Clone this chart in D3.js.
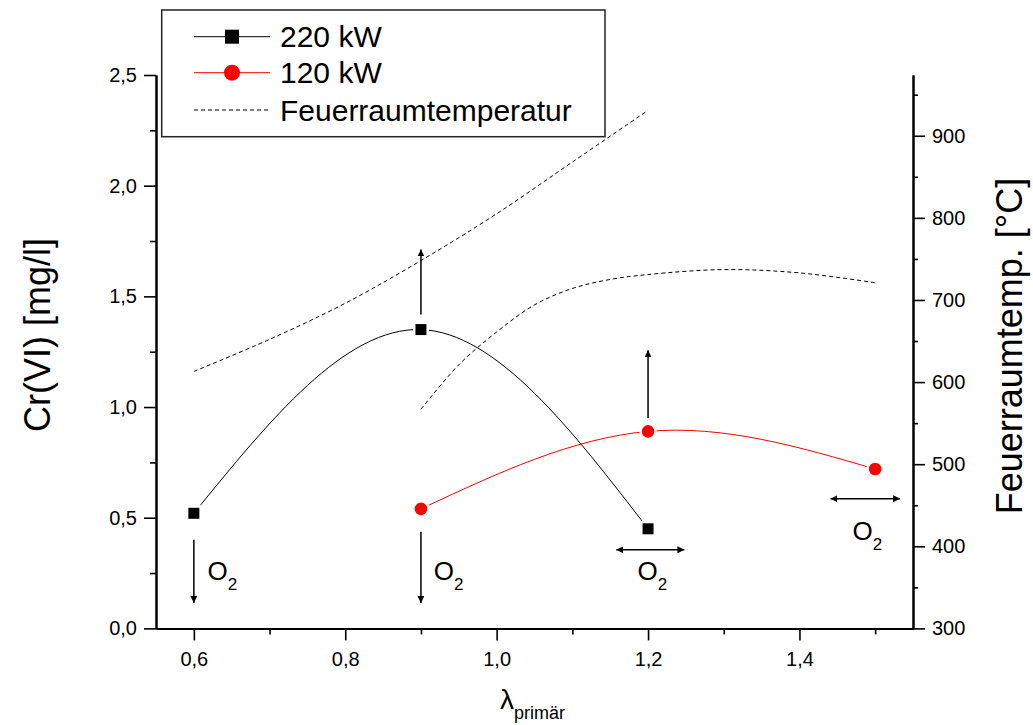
<!DOCTYPE html>
<html>
<head>
<meta charset="utf-8">
<script src="https://cdn.jsdelivr.net/npm/d3@7"></script>
<style>
  body { margin: 0; background: #fff; }
  svg { display: block; font-family: "Liberation Sans", Arial, sans-serif; }
</style>
</head>
<body>
<div id="chart"></div>
<script>
// Cr(VI) series, left axis
const lam220 = [0.6, 0.9, 1.2];
const cr220 = [0.52, 1.35, 0.45];
const lam120 = [0.9, 1.2, 1.5];
const cr120 = [0.54, 0.89, 0.72];

// furnace temperature, right axis
const lamTempA = [0.6, 0.7, 0.8, 0.9, 1.0, 1.1, 1.2];
const tempA = [613, 652, 696, 748, 805, 868, 931];
const lamTempB = [0.9, 0.95, 1.0, 1.05, 1.1, 1.15, 1.2, 1.3, 1.4, 1.5];
const tempB = [567, 621, 661, 694, 714, 725, 731, 737, 733, 721];

const xTicks = [0.6, 0.8, 1.0, 1.2, 1.4];
const xMinor = [0.7, 0.9, 1.1, 1.3, 1.5];
const yTicks = [0, 0.5, 1.0, 1.5, 2.0, 2.5];
const yMinor = [0.25, 0.75, 1.25, 1.75, 2.25];
const tTicks = [300, 400, 500, 600, 700, 800, 900];
const tMinor = [350, 450, 550, 650, 750, 850, 950];

const legendLabels = ["220 kW", "120 kW", "Feuerraumtemperatur"];

// O2 arrows (lambda, Cr value) and labels
const arrows = [
  {l1: 0.6, v1: 0.40, l2: 0.6, v2: 0.115, both: false},
  {l1: 0.9, v1: 0.437, l2: 0.9, v2: 0.115, both: false},
  {l1: 0.9, v1: 1.418, l2: 0.9, v2: 1.712, both: false},
  {l1: 1.2, v1: 0.951, l2: 1.2, v2: 1.257, both: false},
  {l1: 1.158, v1: 0.355, l2: 1.248, v2: 0.355, both: true},
  {l1: 1.441, v1: 0.586, l2: 1.533, v2: 0.586, both: true}
];
const o2Labels = [
  {l: 0.618, v: 0.219},
  {l: 0.917, v: 0.219},
  {l: 1.186, v: 0.219},
  {l: 1.470, v: 0.399}
];

const W = 1033, H = 725;
const svg = d3.select("#chart").append("svg")
  .attr("width", W).attr("height", H);

svg.append("rect").attr("width", W).attr("height", H).attr("fill", "#fff");

const x = d3.scaleLinear().domain([0.55, 1.55]).range([156, 913]);
const y = d3.scaleLinear().domain([0, 2.5]).range([628.4, 75]);
const yT = d3.scaleLinear().domain([300, 974]).range([628.4, 75]);

const defs = svg.append("defs");
defs.append("marker")
  .attr("id", "head")
  .attr("viewBox", "0 0 10 10")
  .attr("refX", 10).attr("refY", 5)
  .attr("markerWidth", 7).attr("markerHeight", 7)
  .attr("markerUnits", "userSpaceOnUse")
  .attr("orient", "auto-start-reverse")
  .append("path").attr("d", "M0,0 L10,5 L0,10 z").attr("fill", "#000");

// temperature dashed lines
const tLine = d3.line()
  .x(d => x(d[0])).y(d => yT(d[1]))
  .curve(d3.curveCatmullRom.alpha(0.5));

[[lamTempA, tempA], [lamTempB, tempB]].forEach(([ls, ts]) => {
  svg.append("path")
    .datum(ls.map((l, i) => [l, ts[i]]))
    .attr("d", tLine)
    .attr("fill", "none")
    .attr("stroke", "#000")
    .attr("stroke-width", 1)
    .attr("stroke-dasharray", "4,3");
});

// Cr(VI) curves
const crLine = d3.line()
  .x(d => x(d[0])).y(d => y(d[1]))
  .curve(d3.curveNatural);

svg.append("path")
  .datum(lam220.map((l, i) => [l, cr220[i]]))
  .attr("d", crLine)
  .attr("fill", "none").attr("stroke", "#000").attr("stroke-width", 1);

svg.append("path")
  .datum(lam120.map((l, i) => [l, cr120[i]]))
  .attr("d", crLine)
  .attr("fill", "none").attr("stroke", "#f00").attr("stroke-width", 1);

// markers (white halo leaves the small gap seen in the original)
svg.selectAll(".sq")
  .data(lam220.map((l, i) => [l, cr220[i]]))
  .enter().append("rect")
  .attr("x", d => x(d[0]) - 5.5).attr("y", d => y(d[1]) - 5.5)
  .attr("width", 11).attr("height", 11)
  .attr("fill", "#000").attr("stroke", "#fff").attr("stroke-width", 5)
  .style("paint-order", "stroke");

svg.selectAll(".ci")
  .data(lam120.map((l, i) => [l, cr120[i]]))
  .enter().append("circle")
  .attr("cx", d => x(d[0])).attr("cy", d => y(d[1]))
  .attr("r", 6.3)
  .attr("fill", "#f00").attr("stroke", "#fff").attr("stroke-width", 5)
  .style("paint-order", "stroke");

// arrows
arrows.forEach(a => {
  const ln = svg.append("line")
    .attr("x1", x(a.l1)).attr("y1", y(a.v1))
    .attr("x2", x(a.l2)).attr("y2", y(a.v2))
    .attr("stroke", "#000").attr("stroke-width", 1.5)
    .attr("marker-end", "url(#head)");
  if (a.both) ln.attr("marker-start", "url(#head)");
});

// O2 labels
o2Labels.forEach(o => {
  const t = svg.append("text")
    .attr("x", x(o.l)).attr("y", y(o.v))
    .attr("font-size", 26).attr("fill", "#000");
  t.append("tspan").text("O");
  t.append("tspan").attr("font-size", 17).attr("dy", 10).text("2");
});

// axes
function styleAxis(g) {
  g.select(".domain").attr("stroke-width", 2);
  g.selectAll(".tick line").attr("stroke-width", 1.6);
  g.selectAll(".tick text").attr("font-size", 20)
    .attr("font-family", "'Liberation Sans', Arial, sans-serif").attr("fill", "#000");
}
const comma1 = d => d3.format(".1f")(d).replace(".", ",");

svg.append("g").attr("transform", "translate(0,628.4)")
  .call(d3.axisBottom(x).tickValues(xMinor).tickSize(6).tickFormat("").tickSizeOuter(0))
  .call(styleAxis);
svg.append("g").attr("transform", "translate(0,628.4)")
  .call(d3.axisBottom(x).tickValues(xTicks).tickSize(12).tickPadding(11)
    .tickFormat(comma1).tickSizeOuter(0))
  .call(styleAxis);

svg.append("g").attr("transform", "translate(156,0)")
  .call(d3.axisLeft(y).tickValues(yMinor).tickSize(6).tickFormat("").tickSizeOuter(0))
  .call(styleAxis);
svg.append("g").attr("transform", "translate(156,0)")
  .call(d3.axisLeft(y).tickValues(yTicks).tickSize(12).tickPadding(7)
    .tickFormat(comma1).tickSizeOuter(0))
  .call(styleAxis);

svg.append("g").attr("transform", "translate(913,0)")
  .call(d3.axisRight(yT).tickValues(tMinor).tickSize(5).tickFormat("").tickSizeOuter(0))
  .call(styleAxis);
svg.append("g").attr("transform", "translate(913,0)")
  .call(d3.axisRight(yT).tickValues(tTicks).tickSize(12).tickPadding(7)
    .tickFormat(d3.format("d")).tickSizeOuter(0))
  .call(styleAxis);

// axis titles
svg.append("text")
  .attr("transform", "translate(50,335) rotate(-90)")
  .attr("text-anchor", "middle").attr("font-size", 36)
  .text("Cr(VI) [mg/l]");

svg.append("text")
  .attr("transform", "translate(1022,346) rotate(-90)")
  .attr("text-anchor", "middle").attr("font-size", 36)
  .text("Feuerraumtemp. [°C]");

const xt = svg.append("text")
  .attr("x", 500).attr("y", 709).attr("font-size", 28);
xt.append("tspan").text("λ");
xt.append("tspan").attr("font-size", 18).attr("dy", 10).text("primär");

// legend
const lg = svg.append("g");
lg.append("rect")
  .attr("x", 161.7).attr("y", 10).attr("width", 443.3).attr("height", 126.7)
  .attr("fill", "#fff").attr("stroke", "#222").attr("stroke-width", 1.5);

const rowY = [36.7, 72.7, 110];
legendLabels.forEach((lab, i) => {
  const ln = lg.append("line")
    .attr("x1", 194).attr("x2", 270).attr("y1", rowY[i]).attr("y2", rowY[i])
    .attr("stroke", i === 1 ? "#f00" : "#000").attr("stroke-width", 1);
  if (i === 2) ln.attr("stroke-dasharray", "4,3");
  lg.append("text")
    .attr("x", 280).attr("y", rowY[i] + 10.5)
    .attr("font-size", 30).text(lab);
});
lg.append("rect")
  .attr("x", 232 - 7).attr("y", rowY[0] - 7).attr("width", 14).attr("height", 14)
  .attr("fill", "#000");
lg.append("circle")
  .attr("cx", 232).attr("cy", rowY[1]).attr("r", 8)
  .attr("fill", "#f00");
</script>
</body>
</html>
